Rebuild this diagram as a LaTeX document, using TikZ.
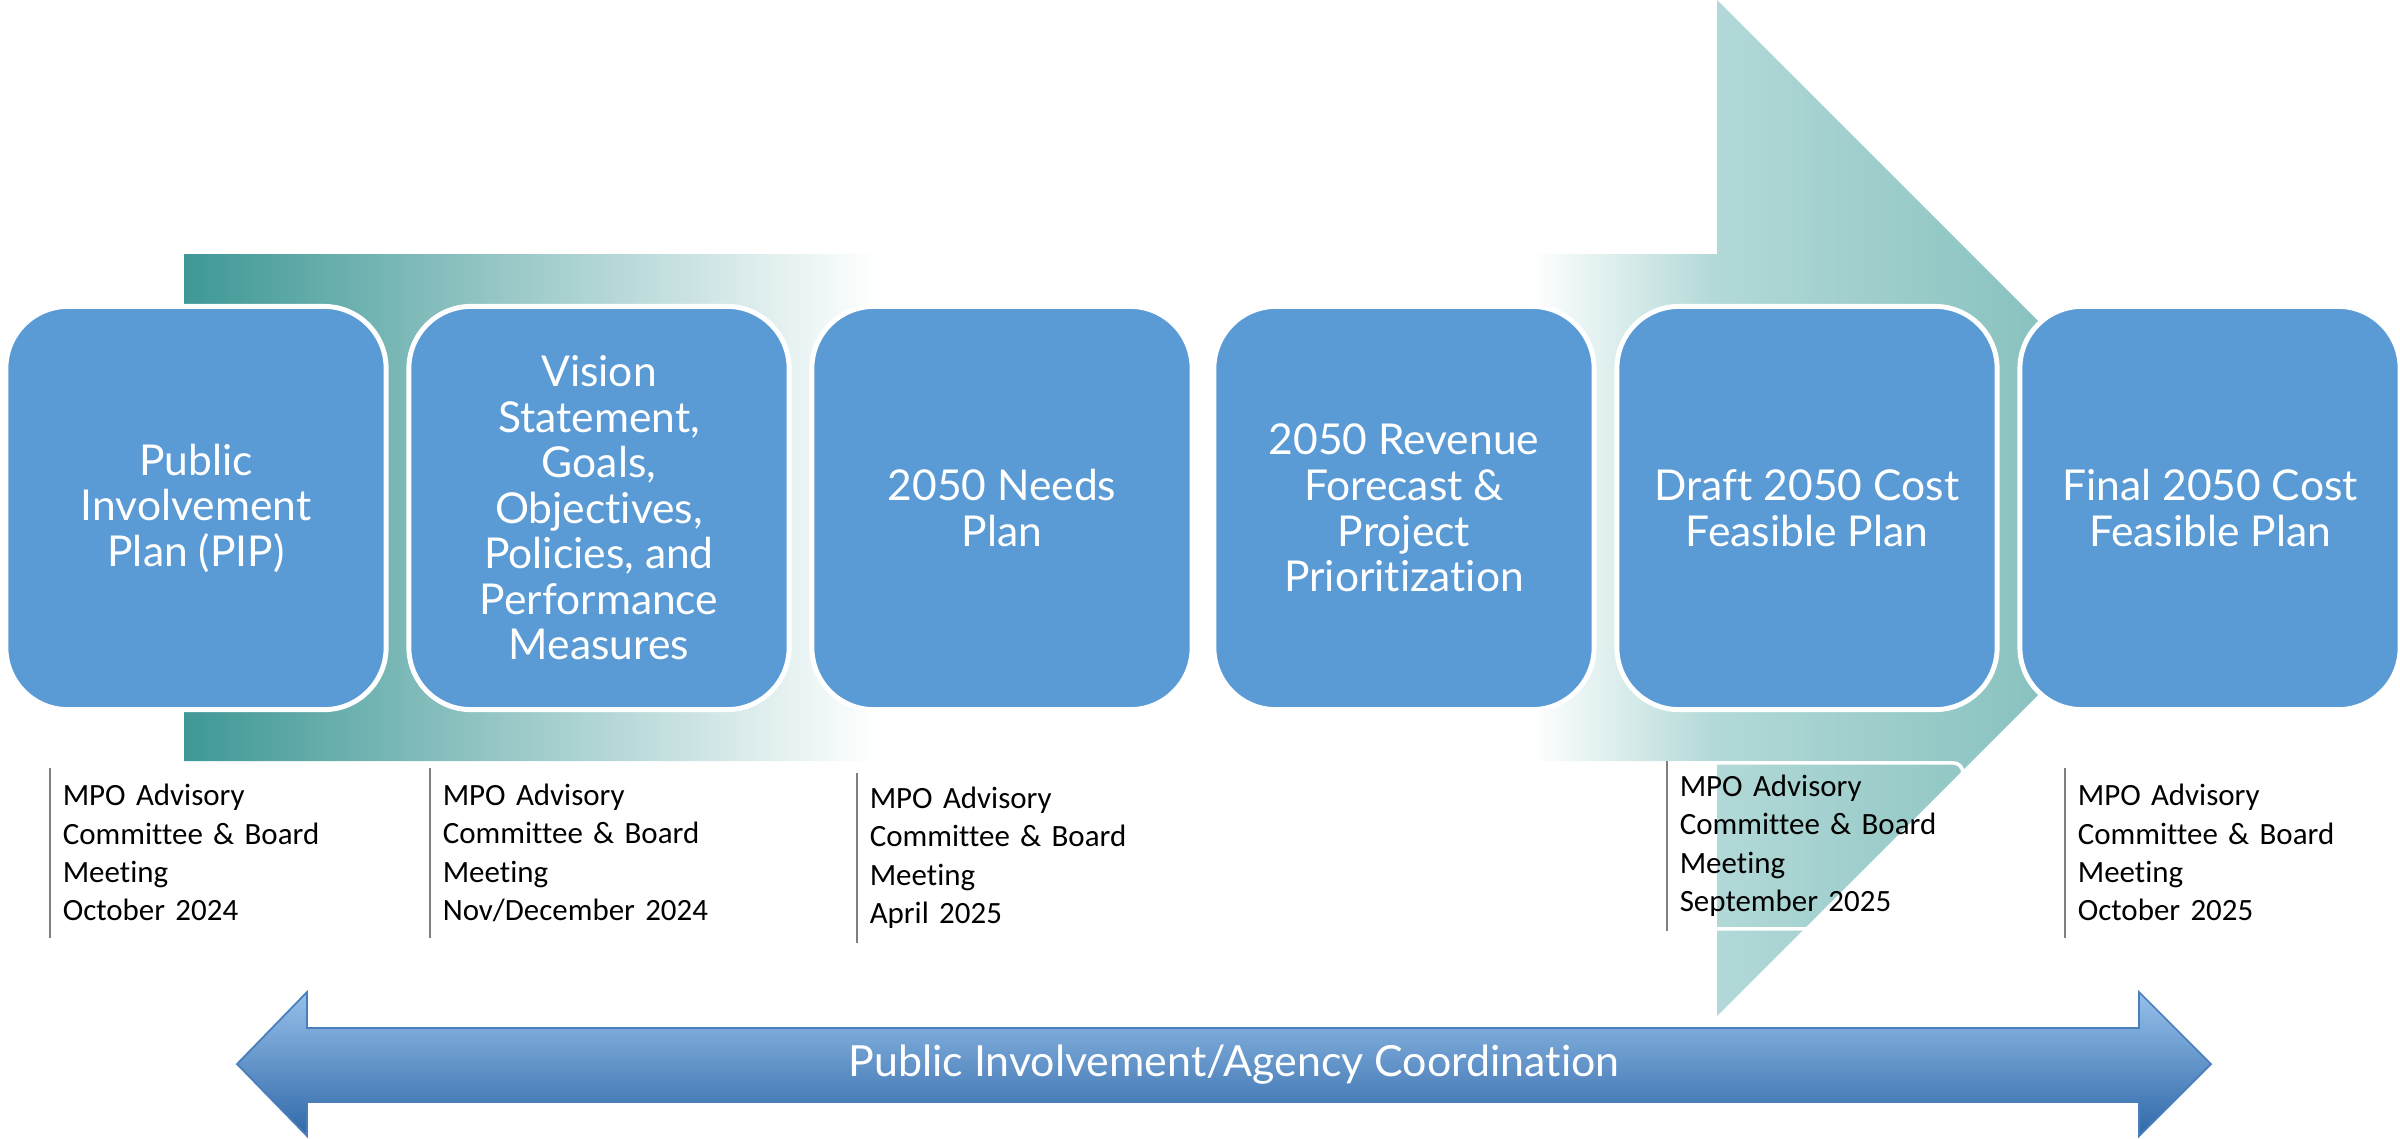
\documentclass[tikz,border=0pt]{standalone}
\usepackage{fontspec}
\setmainfont{Lato}[Ligatures=NoCommon]
\newfontfamily\notefont{Carlito}[Ligatures=NoCommon]
\definecolor{stageblue}{RGB}{91,155,213}
\definecolor{tealdark}{RGB}{62,152,150}
\definecolor{teallight}{RGB}{178,217,215}
\definecolor{tealtip}{RGB}{112,181,178}
\definecolor{notegray}{RGB}{127,127,127}
\definecolor{barlight}{RGB}{150,192,234}
\definecolor{bardark}{RGB}{48,104,168}
\definecolor{baredge}{RGB}{74,126,187}
\pgfdeclarehorizontalshading{flowshade}{100bp}{color(0bp)=(tealdark); color(25bp)=(tealdark); color(42bp)=(white); color(58bp)=(white); color(62.5bp)=(teallight); color(75bp)=(tealtip); color(100bp)=(tealtip)}

\begin{document}
\begin{tikzpicture}
  [x=0.01cm,y=-0.01cm,
   stage/.style={rounded corners=0.62cm, fill=stageblue, draw=white, line width=1.4pt,
     minimum width=3.8cm, minimum height=4.03cm, inner sep=0pt, align=center,
     text=white, font=\fontsize{12.1}{12.95}\selectfont},
   note/.style={anchor=north west, rounded corners=0.1cm, draw=white, line width=1pt,
     minimum width=2.94cm, minimum height=1.66cm, inner xsep=0.11cm, text width=2.72cm,
     align=left, font=\notefont\fontsize{8.8}{10.9}\selectfont},
   noteline/.style={draw=notegray, line width=0.8pt}]
  \useasboundingbox (0,0) rectangle (2400,1138);

  % big arrow behind the stages
  \shade[shading=flowshade] (184,254) -- (1717,254) -- (1717,0) -- (2225,508)
    -- (1717,1016) -- (1717,761) -- (184,761) -- cycle;

  \node[stage] (pip)     at (196,508)  {Public\\Involvement\\Plan (PIP)};
  \node[stage] (vision)  at (599,508)  {Vision\\Statement,\\Goals,\\Objectives,\\Policies, and\\Performance\\Measures};
  \node[stage] (needs)   at (1002,508) {2050 Needs\\Plan};
  \node[stage] (revenue) at (1404,508) {2050 Revenue\\Forecast \&\\Project\\Prioritization};
  \node[stage] (draft)   at (1807,508) {Draft 2050 Cost\\Feasible Plan};
  \node[stage] (final)   at (2210,508) {Final 2050 Cost\\Feasible Plan};

  % meeting notes
  \node[note] (m1) at (50,768)   {MPO Advisory\\Committee \& Board\\Meeting\\October 2024};
  \node[note] (m2) at (430,768)  {MPO Advisory\\Committee \& Board\\Meeting\\Nov/December 2024};
  \node[note] (m3) at (857,773)  {MPO Advisory\\Committee \& Board\\Meeting\\April 2025};
  \node[note] (m4) at (1667,761) {MPO Advisory\\Committee \& Board\\Meeting\\September 2025};
  \node[note] (m5) at (2065,768) {MPO Advisory\\Committee \& Board\\Meeting\\October 2025};
  \foreach \m in {m1,m2,m3,m4,m5}
    \draw[noteline] (\m.north west) -- (\m.south west);

  % coordination bar
  \shade[top color=barlight, middle color=stageblue, bottom color=bardark, draw=baredge, line width=0.5pt]
    (237,1064) -- (307,992) -- (307,1028) -- (2139,1028) -- (2139,992) -- (2211,1064)
    -- (2139,1136) -- (2139,1102) -- (307,1102) -- (307,1136) -- cycle;
  \node[text=white, font=\fontsize{12.2}{14}\selectfont] (coord) at (1234,1065)
    {Public Involvement/Agency Coordination};
\end{tikzpicture}
\end{document}
